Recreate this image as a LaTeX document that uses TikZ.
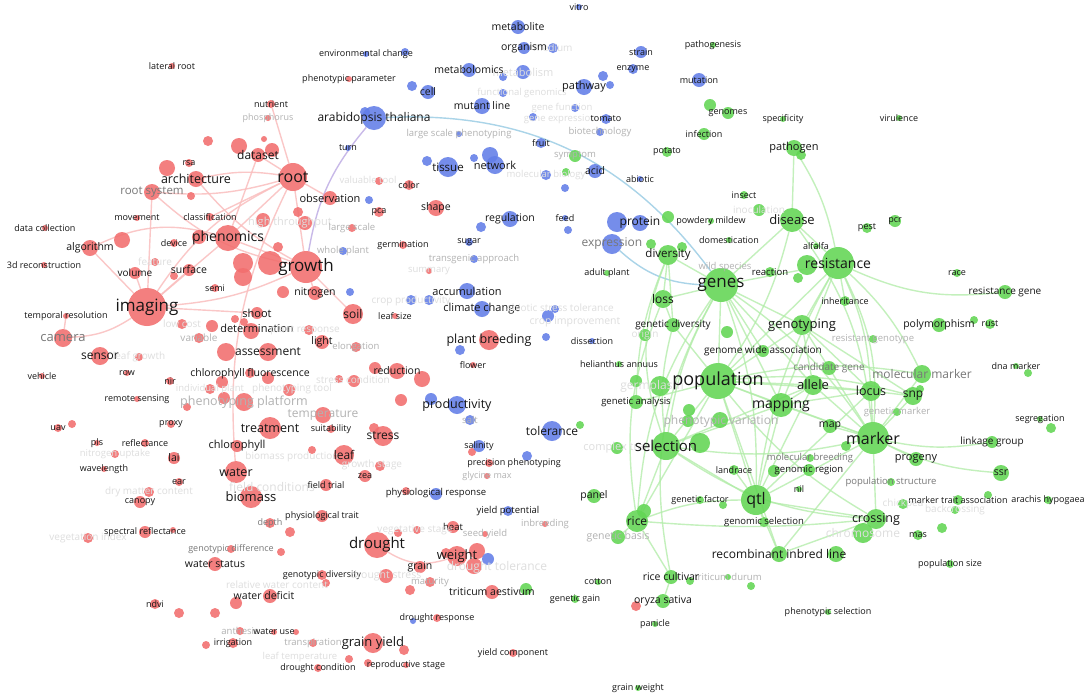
\documentclass[tikz,border=0pt]{standalone}
\usepackage{fontspec}
\setmainfont{Open Sans}
\pgfdeclarelayer{back}\pgfdeclarelayer{bg}\pgfdeclarelayer{fg}
\pgfsetlayers{back,bg,main,fg}
\definecolor{nR}{RGB}{242,110,110}
\definecolor{nB}{RGB}{98,126,232}
\definecolor{nG}{RGB}{98,214,84}
\definecolor{tk}{RGB}{22,22,22}
\definecolor{tg}{RGB}{120,120,120}
\definecolor{tl}{RGB}{178,178,178}
\definecolor{tf}{RGB}{222,222,222}
\definecolor{eR}{RGB}{250,190,190}
\definecolor{eG}{RGB}{176,236,166}
\definecolor{eB}{RGB}{170,212,232}
\definecolor{eV}{RGB}{200,185,232}
\tikzset{
  bub/.style={circle,inner sep=0pt,draw=none,fill opacity=0.88},
  lab/.style={inner sep=0pt},
  edR/.style={draw=eR,line width=1.4pt,draw opacity=0.85},
  edG/.style={draw=eG,line width=1.4pt,draw opacity=0.75},
}
\newcommand\kw[8]{%
  \node[bub,fill=#5,minimum size={2*#4pt}] (#1) at (#2,#3) {};
  \begin{pgfonlayer}{fg}\node[lab,text=#7,font=\fontsize{#6pt}{#6pt}\selectfont] (#1-t) at (#2,#3) {#8};\end{pgfonlayer}}
\newcommand\bb[5]{\node[bub,fill=#5,minimum size={2*#4pt}] (#1) at (#2,#3) {};}
\newcommand\tx[6]{\begin{pgfonlayer}{fg}\node[lab,text=#5,font=\fontsize{#4pt}{#4pt}\selectfont] (#1) at (#2,#3) {#6};\end{pgfonlayer}}
\begin{document}
\begin{tikzpicture}[x=1pt,y=-1pt]
\begin{pgfonlayer}{back}
\fill[white] (0,0) rectangle (1091,697);
\end{pgfonlayer}
\useasboundingbox (0,0) rectangle (1091,697);
% ---------------- red cluster ----------------
\kw{latroot}{172}{66}{3}{nR}{9}{tk}{lateral root}
\kw{nutrient}{271}{104}{4}{nR}{9}{tk}{nutrient}
\kw{phosph}{268}{118}{3}{nR}{9}{tl}{phosphorus}
\bb{r1}{208}{141}{5}{nR}\bb{r2}{239}{146}{8}{nR}\bb{r3}{264}{139}{3}{nR}\bb{r4}{272}{150}{7}{nR}
\kw{dataset}{258}{155}{7}{nR}{12}{tk}{dataset}
\kw{rsa}{189}{163}{4}{nR}{9}{tk}{rsa}
\bb{r5}{167}{168}{8}{nR}
\kw{architecture}{196}{179}{8}{nR}{12.5}{tk}{architecture}
\kw{rootsystem}{152}{192}{8}{nR}{11.5}{tg}{root system}
\bb{r6}{191}{196}{4}{nR}
\kw{root}{293}{177}{14}{nR}{16}{tk}{root}
\kw{movement}{137}{218}{3}{nR}{9}{tk}{movement}
\kw{classification}{210}{217}{4}{nR}{9}{tk}{classification}
\kw{datacoll}{45}{228}{3}{nR}{9}{tk}{data collection}
\bb{r7}{263}{220}{7}{nR}
\kw{algorithm}{90}{248}{8}{nR}{10.5}{tk}{algorithm}
\bb{r8}{122}{240}{8}{nR}
\kw{recon}{44}{265}{3}{nR}{9}{tk}{3d reconstruction}
\kw{device}{174}{243}{4}{nR}{9}{tk}{device}
\bb{r9}{199}{237}{7}{nR}
\kw{phenomics}{228}{238}{13}{nR}{14}{tk}{phenomics}
\kw{feature}{155}{262}{4}{nR}{10}{tf}{feature}
\kw{volume}{135}{273}{6}{nR}{10}{tk}{volume}
\kw{surface}{189}{270}{6}{nR}{10.5}{tk}{surface}
\bb{r10}{174}{276}{4}{nR}
\kw{semi}{215}{288}{4}{nR}{9}{tk}{semi}
\bb{r11}{243}{263}{10}{nR}\bb{r12}{243}{277}{9}{nR}\bb{r13}{270}{263}{12}{nR}\bb{r14}{278}{247}{5}{nR}
\kw{imaging}{147}{307}{19}{nR}{17}{tk}{imaging}
\kw{temporal}{66}{316}{3}{nR}{9}{tk}{temporal resolution}
\kw{camera}{63}{338}{9}{nR}{13}{tg}{camera}
\kw{lowcost}{182}{324}{5}{nR}{10}{tf}{low cost}
\kw{variable}{199}{338}{5}{nR}{10}{tl}{variable}
\kw{shoot}{257}{313}{6}{nR}{11}{tk}{shoot}
\bb{r15}{235}{319}{4}{nR}\bb{r16}{244}{322}{4}{nR}\bb{r17}{212}{326}{6}{nR}\bb{r18}{251}{331}{8}{nR}
\tx{determination}{257}{328}{11}{tk}{determination}
\kw{sensor}{100}{356}{9}{nR}{12}{tk}{sensor}
\kw{leafgrowth}{139}{357}{4}{nR}{10}{tf}{leaf growth}
\bb{r19}{226}{352}{9}{nR}
\kw{assessment}{268}{352}{9}{nR}{12}{tk}{assessment}
\kw{vehicle}{42}{376}{3}{nR}{9}{tk}{vehicle}
\kw{row}{127}{373}{3}{nR}{9}{tk}{row}
\kw{nir}{170}{381}{4}{nR}{9}{tk}{nir}
\bb{r20}{250}{373}{5}{nR}\bb{r21}{268}{378}{6}{nR}
\tx{chlfl}{250}{374}{10.5}{tk}{chlorophyll fluorescence}
\kw{indiv}{210}{389}{5}{nR}{9.5}{tf}{individual plant}
\bb{r22}{222}{382}{6}{nR}
\bb{r23}{224}{398}{6}{nR}
\kw{platform}{244}{402}{9}{nR}{12.5}{tl}{phenotyping platform}
\kw{remote}{137}{399}{3}{nR}{9}{tk}{remote sensing}
\bb{r24}{187}{407}{4}{nR}
\kw{proxy}{171}{424}{4}{nR}{9}{tk}{proxy}
\kw{uav}{58}{428}{4}{nR}{9}{tk}{uav}
\bb{r25}{72}{424}{4}{nR}
\kw{treatment}{270}{428}{11}{nR}{12.5}{tk}{treatment}
\kw{pls}{97}{443}{3}{nR}{9}{tk}{pls}
\kw{reflectance}{145}{443}{4}{nR}{9}{tk}{reflectance}
\kw{chlorophyll}{237}{446}{6}{nR}{11}{tk}{chlorophyll}
\kw{nuptake}{115}{454}{4}{nR}{9.5}{tf}{nitrogen uptake}
\kw{lai}{174}{458}{6}{nR}{10.5}{tk}{lai}
\bb{r26}{312}{450}{4}{nR}
\tx{biomprod}{292}{457}{10}{tf}{biomass production}
\kw{wavelength}{104}{469}{3}{nR}{9}{tk}{wavelength}
\kw{water}{236}{472}{11}{nR}{12.5}{tk}{water}
\kw{ear}{179}{482}{4}{nR}{9}{tk}{ear}
\kw{drymatter}{149}{492}{5}{nR}{10}{tf}{dry matter content}
\tx{fieldcond}{272}{487}{12}{tf}{field conditions}
\kw{biomass}{251}{497}{11}{nR}{13}{tk}{biomass}
\kw{canopy}{140}{502}{6}{nR}{9}{tk}{canopy}
\kw{spectral}{145}{532}{6}{nR}{9}{tk}{spectral reflectance}
\bb{r27}{173}{530}{3}{nR}
\kw{vegindex}{88}{538}{5}{nR}{10}{tf}{vegetation index}
\kw{depth}{270}{523}{5}{nR}{9}{tg}{depth}
\kw{gendiff}{231}{549}{4}{nR}{9}{tg}{genotypic difference}
\kw{waterstatus}{215}{564}{7}{nR}{10.5}{tk}{water status}
\tx{relwater}{277}{585}{10}{tf}{relative water content}
\bb{r59}{270}{596}{7}{nR}
\tx{waterdef}{264}{596}{10.5}{tk}{water deficit}
\bb{r28}{236}{603}{6}{nR}
\kw{ndvi}{155}{604}{5}{nR}{9}{tk}{ndvi}
\bb{r29}{179}{613}{5}{nR}\bb{r30}{215}{613}{5}{nR}
\kw{anthesis}{240}{631}{4}{nR}{9.5}{tl}{anthesis}
\kw{wateruse}{274}{632}{3}{nR}{9}{tk}{water use}
\bb{r31}{296}{632}{3}{nR}
\kw{irrigation}{233}{643}{5}{nR}{9}{tk}{irrigation}
\bb{r32}{206}{645}{4}{nR}
\tx{leaftemp}{300}{657}{9.5}{tf}{leaf temperature}
\kw{transp}{313}{643}{4}{nR}{9.5}{tl}{transpiration}
\kw{grainyield}{373}{643}{10}{nR}{13}{tk}{grain yield}
\bb{r33}{404}{650}{5}{nR}
\kw{droughtcond}{318}{668}{4}{nR}{9}{tk}{drought condition}
\bb{r34}{349}{659}{4}{nR}\bb{r35}{368}{663}{4}{nR}
\kw{reprod}{406}{665}{3}{nR}{9}{tk}{reproductive stage}
\kw{yieldcomp}{513}{653}{4}{nR}{9}{tk}{yield component}
% middle
\kw{growth}{306}{267}{16}{nR}{17}{tk}{growth}
\kw{wholeplant}{343}{251}{4}{nB}{9.5}{tl}{whole plant}
\tx{highthr}{290}{223}{11}{tf}{high throughput}
\kw{observation}{330}{198}{7}{nR}{11}{tk}{observation}
\bb{b1}{369}{200}{4}{nB}
\kw{pca}{379}{212}{5}{nR}{9}{tk}{pca}
\bb{r36}{298}{212}{5}{nR}\bb{r37}{305}{223}{7}{nR}
\kw{largescale}{352}{228}{4}{nR}{9.5}{tl}{large scale}
\bb{r60}{379}{181}{4}{nR}
\tx{valuable}{368}{180}{9.5}{tf}{valuable tool}
\kw{color}{409}{185}{5}{nR}{9}{tk}{color}
\kw{shape}{436}{208}{8}{nR}{10.5}{tk}{shape}
\kw{germination}{403}{245}{4}{nR}{9}{tk}{germination}
\kw{sugar}{469}{242}{4}{nB}{9}{tk}{sugar}
\kw{transgenic}{474}{259}{4}{nB}{9.5}{tl}{transgenic approach}
\kw{summary}{429}{271}{3}{nR}{9.5}{tf}{summary}
\kw{nitrogen}{315}{293}{7}{nR}{10.5}{tk}{nitrogen}
\bb{r38}{283}{292}{6}{nR}\bb{b2}{350}{292}{4}{nB}
\kw{soil}{353}{314}{10}{nR}{12}{tk}{soil}
\kw{leafsize}{395}{316}{3}{nR}{9}{tk}{leaf size}
\bb{b3}{411}{300}{5}{nB}\bb{b4}{429}{300}{5}{nB}
\tx{cropprod}{411}{301}{10}{tf}{crop productivity}
\kw{accumulation}{467}{291}{8}{nB}{11}{tk}{accumulation}
\kw{climate}{482}{309}{8}{nB}{11}{tk}{climate change}
\bb{b5}{548}{316}{6}{nB}\bb{b6}{555}{309}{4}{nB}\bb{b7}{546}{337}{4}{nB}
\tx{abstol}{560}{308}{10}{tf}{abiotic stress tolerance}
\tx{cropimp}{575}{322}{10.5}{tf}{crop improvement}
\bb{r61}{309}{330}{5}{nR}
\tx{plantresp}{305}{330}{10}{tf}{plant response}
\kw{light}{322}{342}{7}{nR}{10.5}{tk}{light}
\kw{elongation}{356}{347}{5}{nR}{9.5}{tl}{elongation}
\kw{plantbreeding}{489}{340}{10}{nR}{12.5}{tk}{plant breeding}
\bb{b8}{460}{350}{5}{nB}
\kw{flower}{473}{365}{3}{nR}{9}{tk}{flower}
\bb{r39}{375}{368}{6}{nR}
\kw{reduction}{397}{371}{8}{nR}{10.5}{tk}{reduction}
\bb{r40}{422}{379}{8}{nR}
\bb{r41}{339}{379}{4}{nR}\bb{r42}{354}{381}{6}{nR}
\tx{stresscond}{353}{380}{10}{tf}{stress condition}
\bb{r43}{289}{390}{6}{nR}
\tx{phentool}{292}{389}{10}{tf}{phenotyping tool}
\bb{b9}{431}{399}{6}{nB}
\kw{productivity}{457}{405}{9}{nB}{12.5}{tk}{productivity}
\bb{r44}{401}{400}{6}{nR}
\kw{salt}{470}{420}{5}{nB}{9.5}{tl}{salt}
\kw{temperature}{323}{415}{8}{nR}{12}{tl}{temperature}
\kw{suitability}{331}{429}{4}{nR}{9}{tk}{suitability}
\bb{r45}{374}{428}{5}{nR}
\kw{stress}{383}{436}{10}{nR}{12}{tk}{stress}
\kw{tolerance}{552}{431}{10}{nB}{12}{tk}{tolerance}
\bb{r46}{472}{452}{4}{nR}
\kw{salinity}{479}{446}{6}{nB}{9}{tk}{salinity}
\kw{leaf}{344}{455}{10}{nR}{12}{tk}{leaf}
\bb{r47}{489}{463}{4}{nR}\bb{b10}{527}{456}{5}{nB}
\tx{precph}{514}{463}{9}{tk}{precision phenotyping}
\bb{r62}{380}{466}{5}{nR}
\tx{growthstage}{372}{465}{10}{tf}{growth stage}
\kw{zea}{365}{476}{6}{nR}{9}{tk}{zea}
\kw{glycine}{487}{476}{3}{nR}{9}{tl}{glycine max}
\kw{fieldtrial}{326}{485}{6}{nR}{9}{tk}{field trial}
\bb{r48}{406}{491}{4}{nR}\bb{b11}{436}{494}{6}{nB}
\tx{physresp}{436}{493}{9.5}{tk}{physiological response}
\kw{phystrait}{322}{516}{6}{nR}{9}{tk}{physiological trait}
\kw{yieldpot}{508}{511}{5}{nB}{9.5}{tk}{yield potential}
\kw{inbreeding}{545}{524}{3}{nR}{9.5}{tl}{inbreeding}
\kw{heat}{453}{527}{6}{nR}{9.5}{tk}{heat}
\bb{r49}{398}{533}{4}{nR}\bb{r50}{417}{530}{4}{nR}
\tx{vegstage}{415}{530}{10}{tf}{vegetative stage}
\kw{seedyield}{485}{534}{3}{nR}{9.5}{tl}{seed yield}
\bb{r51}{290}{532}{5}{nR}
\kw{drought}{377}{545}{13}{nR}{15}{tk}{drought}
\bb{r52}{446}{553}{5}{nR}\bb{r53}{477}{551}{8}{nR}\bb{r54}{474}{566}{8}{nR}\bb{b12}{488}{559}{6}{nB}
\kw{weight}{457}{556}{10}{nR}{13}{tk}{weight}
\tx{droughttol}{497}{567}{12}{tf}{drought tolerance}
\kw{grain}{420}{567}{6}{nR}{10.5}{tk}{grain}
\bb{r55}{281}{552}{4}{nR}
\kw{gendiv}{322}{575}{5}{nR}{9}{tk}{genotypic diversity}
\bb{r56}{326}{583}{4}{nR}
\kw{droughtstress}{386}{576}{7}{nR}{10.5}{tf}{drought stress}
\kw{maturity}{430}{582}{5}{nR}{9.5}{tl}{maturity}
\bb{r57}{410}{590}{5}{nR}
\kw{triticumae}{492}{592}{7}{nR}{10.5}{tk}{triticum aestivum}
\bb{g1}{526}{589}{6}{nG}
\bb{b13}{413}{621}{3}{nB}
\kw{droughtresp}{437}{618}{4}{nR}{9}{tk}{drought response}
% ---------------- blue cluster ----------------
\kw{vitro}{579}{7}{3}{nB}{9}{tk}{vitro}
\kw{metabolite}{518}{27}{7}{nB}{10.5}{tk}{metabolite}
\kw{medium}{553}{48}{5}{nB}{10}{tf}{medium}
\kw{organism}{524}{48}{6}{nB}{10.5}{tk}{organism}
\kw{envchange}{366}{54}{3}{nB}{9}{tk}{environmental change}
\bb{b14}{405}{52}{4}{nB}
\kw{phenparam}{349}{79}{3}{nR}{9}{tk}{phenotypic parameter}
\bb{b15}{503}{77}{4}{nB}
\kw{metabolism}{523}{72}{7}{nB}{11}{tf}{metabolism}
\kw{metabolomics}{469}{70}{7}{nB}{10.5}{tk}{metabolomics}
\kw{cell}{428}{92}{7}{nB}{10.5}{tk}{cell}
\bb{b16}{412}{86}{5}{nB}
\bb{b17}{365}{112}{5}{nB}
\kw{arabidopsis}{374}{118}{12}{nB}{12}{tk}{arabidopsis thaliana}
\bb{b29}{503}{93}{4}{nB}
\tx{funcgen}{522}{93}{9.5}{tf}{functional genomics}
\kw{mutantline}{482}{106}{8}{nB}{10.5}{tk}{mutant line}
\bb{b18}{533}{117}{4}{nB}\bb{b19}{575}{108}{4}{nB}
\tx{genefunc}{562}{108}{9.5}{tf}{gene function}
\tx{geneexpr}{560}{119}{9.5}{tf}{gene expression}
\kw{pathway}{584}{87}{8}{nB}{11}{tk}{pathway}
\bb{b20}{603}{76}{5}{nB}\bb{b21}{610}{85}{4}{nB}
\kw{strain}{641}{52}{6}{nB}{9}{tk}{strain}
\kw{enzyme}{633}{69}{5}{nB}{9}{tk}{enzyme}
\kw{mutation}{699}{80}{7}{nB}{9}{tk}{mutation}
\kw{tomato}{606}{119}{5}{nB}{9}{tk}{tomato}
\kw{biotech}{600}{132}{4}{nB}{9.5}{tl}{biotechnology}
\kw{lsphen}{459}{134}{3}{nB}{9.5}{tl}{large scale phenotyping}
\kw{turn}{348}{148}{3}{nB}{9}{tk}{turn}
\kw{fruit}{541}{143}{5}{nB}{9}{tk}{fruit}
\bb{b22}{427}{161}{5}{nB}
\kw{tissue}{448}{167}{10}{nB}{11.5}{tk}{tissue}
\bb{b23}{490}{155}{8}{nB}\bb{b24}{474}{158}{4}{nB}
\kw{network}{495}{165}{9}{nB}{11}{tk}{network}
\kw{molbio}{546}{175}{5}{nB}{9.5}{tf}{molecular biology}
\bb{b25}{481}{227}{5}{nB}
\kw{regulation}{510}{219}{8}{nB}{10.5}{tk}{regulation}
\kw{symptom}{575}{156}{6}{nG}{9.5}{tl}{symptom}
\bb{g2}{566}{172}{4}{nG}
\kw{acid}{595}{171}{7}{nB}{10.5}{tk}{acid}
\bb{b26}{565}{188}{4}{nB}
\kw{abiotic}{640}{179}{3}{nB}{9}{tk}{abiotic}
\kw{feed}{565}{218}{3}{nB}{9}{tk}{feed}
\bb{b27}{617}{222}{10}{nB}\bb{b28}{568}{230}{4}{nB}
\kw{protein}{640}{223}{8}{nB}{12}{tk}{protein}
\kw{expression}{612}{244}{10}{nB}{12}{tg}{expression}
\kw{adultplant}{607}{273}{3}{nG}{9}{tk}{adult plant}
\kw{dissection}{592}{341}{3}{nB}{9}{tk}{dissection}
% ---------------- green cluster ----------------
\kw{pathogenesis}{713}{45}{3}{nG}{9}{tk}{pathogenesis}
\kw{virulence}{899}{118}{3}{nG}{9}{tk}{virulence}
\bb{g3}{710}{105}{6}{nG}
\kw{genomes}{728}{113}{6}{nG}{9}{tk}{genomes}
\kw{specificity}{783}{119}{3}{nG}{9}{tk}{specificity}
\kw{infection}{704}{134}{6}{nG}{9}{tk}{infection}
\kw{potato}{667}{152}{5}{nG}{9}{tk}{potato}
\bb{g4}{801}{155}{5}{nG}
\kw{pathogen}{794}{148}{8}{nG}{11}{tk}{pathogen}
\kw{insect}{744}{195}{4}{nG}{9}{tk}{insect}
\kw{inoculation}{759}{210}{6}{nG}{10}{tf}{inoculation}
\kw{disease}{792}{220}{12}{nG}{13}{tk}{disease}
\kw{pest}{867}{228}{5}{nG}{9}{tk}{pest}
\kw{pcr}{895}{221}{6}{nG}{9}{tk}{pcr}
\bb{g5}{668}{217}{6}{nG}
\kw{powdery}{711}{221}{3}{nG}{9}{tk}{powdery mildew}
\kw{domestication}{729}{240}{3}{nG}{9}{tk}{domestication}
\kw{alfalfa}{816}{246}{3}{nG}{9}{tk}{alfalfa}
\bb{g6}{651}{244}{5}{nG}\bb{g7}{682}{247}{5}{nG}
\kw{diversity}{668}{255}{10}{nG}{11.5}{tk}{diversity}
\tx{wildspecies}{725}{267}{9.5}{tl}{wild species}
\kw{reaction}{770}{272}{5}{nG}{9.5}{tk}{reaction}
\bb{g8}{798}{278}{5}{nG}\bb{g9}{807}{265}{10}{nG}
\kw{resistance}{838}{263}{16}{nG}{14}{tk}{resistance}
\kw{genes}{721}{285}{17}{nG}{17}{tk}{genes}
\kw{race}{957}{273}{4}{nG}{9}{tk}{race}
\kw{resgene}{1005}{292}{7}{nG}{10}{tk}{resistance gene}
\kw{inheritance}{845}{301}{5}{nG}{9}{tk}{inheritance}
\kw{loss}{663}{299}{9}{nG}{12}{tk}{loss}
\bb{g10}{974}{320}{4}{nG}
\kw{polymorphism}{939}{325}{7}{nG}{10.5}{tk}{polymorphism}
\kw{rust}{990}{324}{5}{nG}{9}{tk}{rust}
\kw{genotyping}{802}{325}{10}{nG}{13}{tk}{genotyping}
\kw{gendiversity}{673}{325}{7}{nG}{10}{tk}{genetic diversity}
\kw{origin}{645}{335}{6}{nG}{10}{tf}{origin}
\kw{resgeno}{873}{339}{4}{nG}{9.5}{tl}{resistant genotype}
\bb{g11}{727}{332}{6}{nG}
\kw{gwa}{763}{351}{6}{nG}{10}{tk}{genome wide association}
\kw{candgene}{829}{368}{7}{nG}{10}{tg}{candidate gene}
\kw{molmarker}{922}{374}{9}{nG}{12}{tg}{molecular marker}
\bb{g12}{1028}{373}{4}{nG}
\kw{dnamarker}{1016}{366}{3}{nG}{9}{tk}{dna marker}
\kw{helianthus}{619}{364}{3}{nG}{9}{tk}{helianthus annuus}
\bb{g13}{636}{381}{6}{nG}\bb{g14}{660}{386}{10}{nG}
\tx{germplasm}{652}{386}{12}{tf}{germplasm}
\kw{population}{718}{381}{18}{nG}{18}{tk}{population}
\kw{allele}{813}{385}{10}{nG}{13}{tk}{allele}
\kw{locus}{871}{391}{10}{nG}{12.5}{tk}{locus}
\bb{g15}{920}{389}{4}{nG}
\kw{snp}{913}{396}{9}{nG}{12}{tk}{snp}
\kw{genmarker}{897}{412}{4}{nG}{9.5}{tl}{genetic marker}
\bb{g16}{1051}{428}{5}{nG}
\kw{segregation}{1040}{419}{3}{nG}{9}{tk}{segregation}
\kw{genanalysis}{636}{402}{7}{nG}{9.5}{tk}{genetic analysis}
\kw{mapping}{781}{405}{12}{nG}{14}{tk}{mapping}
\bb{g17}{689}{410}{6}{nG}\bb{g18}{688}{421}{6}{nG}\bb{g19}{720}{420}{8}{nG}
\tx{phenvar}{721}{421}{12}{tl}{phenotypic variation}
\kw{map}{830}{426}{7}{nG}{10.5}{tk}{map}
\bb{g20}{846}{446}{5}{nG}
\kw{marker}{873}{438}{16}{nG}{16}{tk}{marker}
\kw{linkage}{992}{442}{6}{nG}{10}{tk}{linkage group}
\kw{progeny}{916}{459}{7}{nG}{11}{tk}{progeny}
\bb{g21}{580}{425}{4}{nG}
\kw{complex}{617}{448}{6}{nG}{11}{tf}{complex trait}
\bb{g22}{700}{443}{10}{nG}
\kw{selection}{666}{446}{14}{nG}{15}{tk}{selection}
\kw{molbreeding}{810}{458}{4}{nG}{9.5}{tg}{molecular breeding}
\kw{landrace}{734}{470}{5}{nG}{9}{tk}{landrace}
\bb{g23}{774}{471}{6}{nG}
\kw{genregion}{809}{470}{6}{nG}{9.5}{tk}{genomic region}
\kw{popstruct}{891}{482}{4}{nG}{9.5}{tg}{population structure}
\kw{ssr}{1001}{473}{8}{nG}{10.5}{tk}{ssr}
\kw{nil}{799}{489}{3}{nG}{9}{tk}{nil}
\kw{panel}{594}{496}{7}{nG}{10.5}{tk}{panel}
\bb{g24}{723}{505}{4}{nG}
\kw{genfactor}{700}{500}{4}{nG}{9}{tk}{genetic factor}
\kw{qtl}{756}{500}{15}{nG}{16}{tk}{qtl}
\bb{g25}{988}{495}{4}{nG}
\kw{mta}{958}{500}{5}{nG}{9}{tk}{marker trait association}
\kw{arachis}{1048}{500}{4}{nG}{9}{tk}{arachis hypogaea}
\kw{chickpea}{903}{504}{5}{nG}{10}{tf}{chickpea}
\kw{backcross}{955}{510}{4}{nG}{10}{tf}{backcrossing}
\bb{g26}{644}{511}{7}{nG}
\kw{rice}{637}{521}{11}{nG}{12}{tk}{rice}
\kw{genselect}{764}{522}{5}{nG}{9.5}{tk}{genomic selection}
\kw{chromosome}{863}{533}{10}{nG}{12}{tf}{chromosome}
\kw{crossing}{876}{519}{10}{nG}{12.5}{tk}{crossing}
\bb{g27}{942}{528}{5}{nG}
\kw{mas}{918}{535}{5}{nG}{9}{tk}{mas}
\kw{genbasis}{618}{537}{7}{nG}{10.5}{tl}{genetic basis}
\bb{g28}{836}{554}{8}{nG}
\kw{ril}{779}{554}{8}{nG}{12}{tk}{recombinant inbred line}
\kw{popsize}{950}{564}{4}{nG}{9}{tk}{population size}
\kw{cotton}{598}{582}{3}{nG}{9}{tk}{cotton}
\bb{g29}{690}{581}{4}{nG}
\kw{tdurum}{728}{577}{3}{nG}{9.5}{tl}{triticum durum}
\kw{ricecult}{671}{577}{7}{nG}{10.5}{tk}{rice cultivar}
\bb{g30}{751}{586}{4}{nG}
\kw{gengain}{575}{599}{4}{nG}{9}{tk}{genetic gain}
\bb{r58}{636}{606}{5}{nR}
\kw{oryza}{663}{601}{7}{nG}{10.5}{tk}{oryza sativa}
\kw{panicle}{655}{624}{3}{nG}{9}{tk}{panicle}
\kw{phensel}{828}{612}{3}{nG}{9}{tk}{phenotypic selection}
\kw{grainweight}{638}{688}{3}{nG}{9}{tk}{grain weight}
% ---------------- links ----------------
\begin{pgfonlayer}{bg}
\foreach \p/\q/\w in {root/architecture/-10,root/dataset/0,root/rootsystem/10,root/classification/0,
  root/phenomics/0,root/growth/0,root/imaging/-15,root/observation/0,root/water/-15,root/nutrient/0,
  growth/nitrogen/0,growth/soil/0,growth/imaging/10,growth/phenomics/0,growth/rootsystem/15,
  growth/architecture/10,imaging/algorithm/0,imaging/volume/0,imaging/surface/0,imaging/phenomics/0,
  imaging/camera/15,imaging/shoot/0,algorithm/phenomics/20,imaging/rootsystem/0,drought/weight/-25,
  camera/temporal/0,phenomics/dataset/0}
  \draw[edR] (\p) to[bend left=\w] (\q);
\draw[draw=eV,line width=1.4pt] (arabidopsis) to[bend right=15] (growth);
\draw[draw=eB,line width=1.4pt] (arabidopsis) to[bend left=28] (genes);
\draw[draw=eB,line width=1.4pt] (expression) to[bend right=20] (genes);
\foreach \p/\q/\w in {pathogen/disease/0,pathogen/resistance/10,disease/resistance/0,disease/genes/0,
  disease/population/10,disease/marker/15,resistance/genes/0,resistance/marker/15,resistance/resgene/-15,
  resistance/population/0,resistance/inheritance/0,resistance/genotyping/0,resistance/qtl/-10,
  resistance/locus/10,resistance/molmarker/10,resistance/mapping/0,genes/population/0,genes/diversity/0,
  genes/loss/0,genes/marker/10,genes/qtl/10,genes/selection/-10,genes/mapping/0,genes/genotyping/0,
  genes/allele/0,genes/gwa/0,genes/ricecult/-20,diversity/loss/0,diversity/gendiversity/0,
  loss/gendiversity/0,gendiversity/population/0,gendiversity/selection/-10,loss/rice/-15,
  diversity/genanalysis/-10,population/marker/0,population/qtl/0,population/selection/0,
  population/mapping/0,population/allele/0,population/locus/0,population/crossing/-10,population/ril/0,
  population/genotyping/0,population/snp/10,population/molmarker/10,population/rice/0,
  population/genanalysis/0,marker/qtl/0,marker/mapping/0,marker/locus/0,marker/snp/0,marker/map/0,
  marker/selection/10,marker/crossing/0,marker/allele/0,marker/genotyping/0,marker/linkage/-10,
  marker/ssr/-10,marker/progeny/0,marker/ril/0,marker/molmarker/0,qtl/selection/0,qtl/mapping/0,
  qtl/rice/-10,qtl/crossing/0,qtl/ril/0,qtl/locus/0,qtl/allele/0,qtl/genselect/0,qtl/landrace/0,
  selection/rice/0,selection/mapping/0,selection/crossing/-15,selection/allele/0,rice/ricecult/0,
  ricecult/oryza/0,rice/genbasis/0,rice/crossing/-5,allele/locus/0,locus/snp/0,genotyping/allele/0,
  genotyping/locus/0,genotyping/snp/0,crossing/ril/0,mapping/locus/0,mapping/allele/0,
  diversity/selection/-20,genes/rice/-15}
  \draw[edG] (\p) to[bend left=\w] (\q);
\end{pgfonlayer}
\end{tikzpicture}
\end{document}
